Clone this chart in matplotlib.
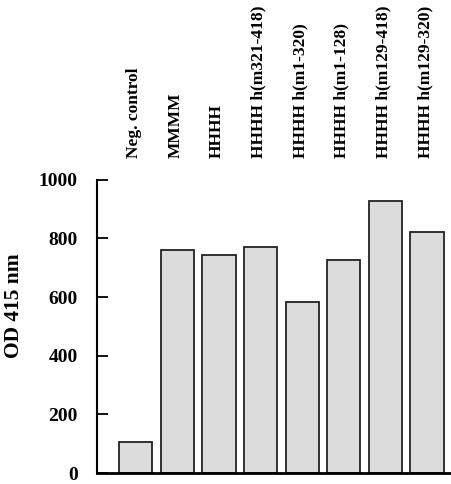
import matplotlib
matplotlib.use("Agg")
import matplotlib.pyplot as plt

plt.rcParams['font.family'] = 'Liberation Serif'
plt.rcParams['font.weight'] = 'bold'

labels = ["Neg. control", "MMMM", "HHHH", "HHHH h(m321-418)", "HHHH h(m1-320)",
          "HHHH h(m1-128)", "HHHH h(m129-418)", "HHHH h(m129-320)"]
od415 = [107, 759, 742, 772, 583, 726, 929, 822]
yticks = [0, 200, 400, 600, 800, 1000]

fig = plt.figure(figsize=(4.52, 4.84), dpi=100)
ax = fig.add_axes([0.2146, 0.0227, 0.7854, 0.606])

x = list(range(len(labels)))
ax.bar(x, od415, width=0.8, color='#dcdcdc', edgecolor='#222222', linewidth=1.3)

ax.set_xlim(-0.93, 7.6)
ax.set_ylim(0, 1000)
ax.set_yticks(yticks)
ax.tick_params(axis='y', direction='in', length=8, width=1.3, pad=14, labelsize=14)
ax.set_xticks([])
ax.set_ylabel("OD 415 nm", fontsize=15.5, fontweight='bold')
ax.yaxis.set_label_coords(-0.205, 0.569)

for s in ['top', 'right']:
    ax.spines[s].set_visible(False)
ax.spines['left'].set_linewidth(1.5)
ax.spines['bottom'].set_linewidth(2)

for i, lab in enumerate(labels):
    ax.text(i - 0.05, 1.075, lab, transform=ax.get_xaxis_transform(), rotation=90,
            ha='center', va='bottom', fontsize=12.5, fontweight='bold')

fig.savefig("out.png", dpi=100)
